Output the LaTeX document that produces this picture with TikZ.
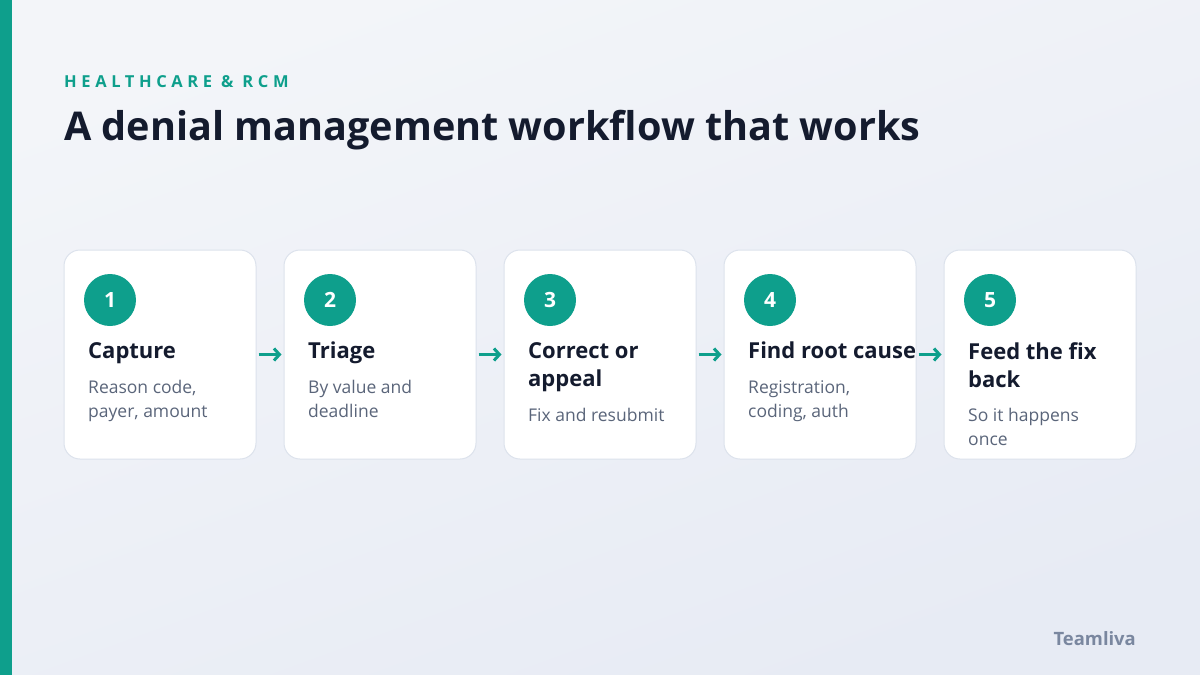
\documentclass[tikz,border=0pt]{standalone}
\usepackage{fontspec}
\setmainfont{Open Sans}
\newfontfamily\kickerfont{Open Sans}[LetterSpace=28]
\usetikzlibrary{arrows.meta}
\definecolor{rcmteal}{HTML}{0E9F8C}
\definecolor{ink}{HTML}{141B2E}
\definecolor{slate}{HTML}{5A657A}
\definecolor{cardline}{HTML}{DCE2EC}
\definecolor{bgtop}{HTML}{F3F5F9}
\definecolor{bgbot}{HTML}{E7EBF4}
\definecolor{brand}{HTML}{7A879F}
\begin{document}
\begin{tikzpicture}[x=1pt,y=-1pt,
    card/.style={draw=cardline,fill=white,line width=1pt,rounded corners=16pt,
      minimum width=192pt,minimum height=209pt,inner sep=0pt},
    badge/.style={circle,fill=rcmteal,minimum size=52pt,inner sep=0pt,text=white,
      font=\bfseries\fontsize{21}{24}\selectfont},
    steptitle/.style={anchor=north west,inner sep=0pt,align=left,text=ink,
      font=\bfseries\fontsize{22}{28}\selectfont},
    stepdesc/.style={anchor=north west,inner sep=0pt,align=left,text=slate,
      font=\fontsize{17.5}{24}\selectfont},
    flow/.style={draw=rcmteal,line width=3pt,-{Straight Barb[length=5.5pt,width=12pt]},
      shorten <=2pt,shorten >=2pt}]
  % backdrop and accent bar
  \shade[top color=bgtop,bottom color=bgbot,shading angle=20] (0,0) rectangle (1200,675);
  \fill[rcmteal] (0,0) rectangle (12,675);
  % heading
  \node[anchor=north west,inner sep=0pt,text=rcmteal,font=\kickerfont\bfseries\fontsize{16.5}{20}\selectfont] (kicker) at (64,75) {HEALTHCARE \& RCM};
  \node[anchor=north west,inner sep=0pt,text=ink,font=\bfseries\fontsize{39.6}{48}\selectfont] (headline) at (64,110) {A denial management workflow that works};
  % steps
  \foreach \n/\ttl/\dsc/\dy in {1/Capture/{Reason code,\\payer, amount}/380,
      2/Triage/{By value and\\deadline}/380,
      3/{Correct or\\appeal}/{Fix and resubmit}/408,
      4/Find root cause/{Registration,\\coding, auth}/380,
      5/{Feed the fix\\back}/{So it happens\\once}/408} {
    \node[card] (c\n) at ({160+220*(\n-1)},354.5) {};
    \node[badge] (b\n) at ({110+220*(\n-1)},300) {\n};
    \node[steptitle] (t\n) at ({88+220*(\n-1)},342) {\ttl};
    \node[stepdesc] (d\n) at ({88+220*(\n-1)},\dy) {\dsc};
  }
  \foreach \a/\b in {1/2,2/3,3/4,4/5}
    \draw[flow] (c\a) -- (c\b);
  % brand
  \node[anchor=north east,inner sep=0pt,text=brand,font=\bfseries\fontsize{18.4}{20}\selectfont] (brand) at (1136,631) {Teamliva};
\end{tikzpicture}
\end{document}
